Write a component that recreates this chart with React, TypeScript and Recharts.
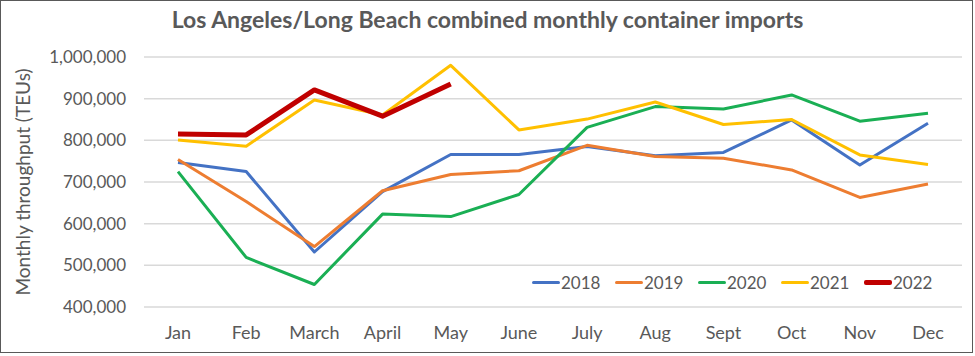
import React from 'react';
import {
  LineChart,
  Line,
  XAxis,
  YAxis,
  CartesianGrid,
} from 'recharts';

const months = ['Jan', 'Feb', 'March', 'April', 'May', 'June', 'July', 'Aug', 'Sept', 'Oct', 'Nov', 'Dec'];

const y2018 = [747000, 725000, 532000, 677000, 766000, 766000, 785000, 763000, 771000, 849000, 741000, 841000];
const y2019 = [754000, 653000, 545000, 679000, 718000, 727000, 788000, 761000, 757000, 729000, 663000, 695000];
const y2020 = [725000, 519000, 454000, 623000, 617000, 670000, 831000, 881000, 875000, 909000, 846000, 865000];
const y2021 = [801000, 786000, 897000, 861000, 980000, 825000, 851000, 892000, 838000, 850000, 765000, 742000];
const y2022 = [815000, 813000, 921000, 858000, 935000];

const yTicks = [400000, 500000, 600000, 700000, 800000, 900000, 1000000];

const series = [
  { key: '2018', color: '#4472C4', width: 3 },
  { key: '2019', color: '#ED7D31', width: 3 },
  { key: '2020', color: '#1AAF54', width: 3 },
  { key: '2021', color: '#FFC000', width: 3 },
  { key: '2022', color: '#C00000', width: 5 },
];

const data = months.map((m, i) => ({
  name: m,
  '2018': y2018[i],
  '2019': y2019[i],
  '2020': y2020[i],
  '2021': y2021[i],
  '2022': y2022[i],
}));

const font = 'Lato, "Open Sans", sans-serif';
const textColor = '#595959';

// legend drawn as a plain overlay so it doesn't shrink the plot area
const LegendBox = () => (
  <div
    style={{
      position: 'absolute',
      left: 532,
      top: 272,
      display: 'flex',
      alignItems: 'center',
      fontSize: 17,
      color: textColor,
    }}
  >
    {series.map((s) => (
      <div key={s.key} style={{ display: 'flex', alignItems: 'center', width: 83 }}>
        <div style={{ width: 28, height: s.width, background: s.color, borderRadius: 2 }} />
        <span style={{ marginLeft: 1 }}>{s.key}</span>
      </div>
    ))}
  </div>
);

export default function App() {
  return (
    <div style={{ position: 'absolute', left: 0, top: 0, width: 975, height: 356, background: '#fff', fontFamily: font }}>
      <div
        style={{
          position: 'absolute',
          left: 0,
          top: 0,
          width: 973,
          height: 353,
          border: '1px solid #595959',
          boxSizing: 'border-box',
        }}
      />
      <div
        style={{
          position: 'absolute',
          left: 0,
          top: 5,
          width: 975,
          textAlign: 'center',
          fontSize: 23,
          fontWeight: 700,
          color: textColor,
        }}
      >
        Los Angeles/Long Beach combined monthly container imports
      </div>
      <div
        style={{
          position: 'absolute',
          left: 22,
          top: 182,
          transform: 'translate(-50%, -50%) rotate(-90deg)',
          whiteSpace: 'nowrap',
          fontSize: 19,
          color: textColor,
        }}
      >
        Monthly throughput (TEUs)
      </div>
      <div style={{ position: 'absolute', left: 0, top: 0 }}>
        <LineChart width={975} height={356} data={data} margin={{ top: 57, right: 13, bottom: 0, left: 0 }}>
          <CartesianGrid vertical={false} stroke="#d9d9d9" strokeWidth={1.5} />
          <XAxis
            dataKey="name"
            height={49}
            axisLine={false}
            tickLine={false}
            padding={{ left: 34, right: 34 }}
            interval={0}
            tick={{ fill: textColor, fontSize: 18, fontFamily: font }}
            tickMargin={13}
          />
          <YAxis
            width={144}
            domain={[400000, 1000000]}
            ticks={yTicks}
            axisLine={false}
            tickLine={false}
            interval={0}
            tickFormatter={(v: number) => v.toLocaleString('en-US')}
            tick={{ fill: textColor, fontSize: 17, fontFamily: font }}
            tickMargin={12}
          />
          {series.map((s) => (
            <Line
              key={s.key}
              type="linear"
              dataKey={s.key}
              stroke={s.color}
              strokeWidth={s.width}
              dot={false}
              activeDot={false}
              isAnimationActive={false}
              strokeLinejoin="round"
            />
          ))}
        </LineChart>
      </div>
      <LegendBox />
    </div>
  );
}
